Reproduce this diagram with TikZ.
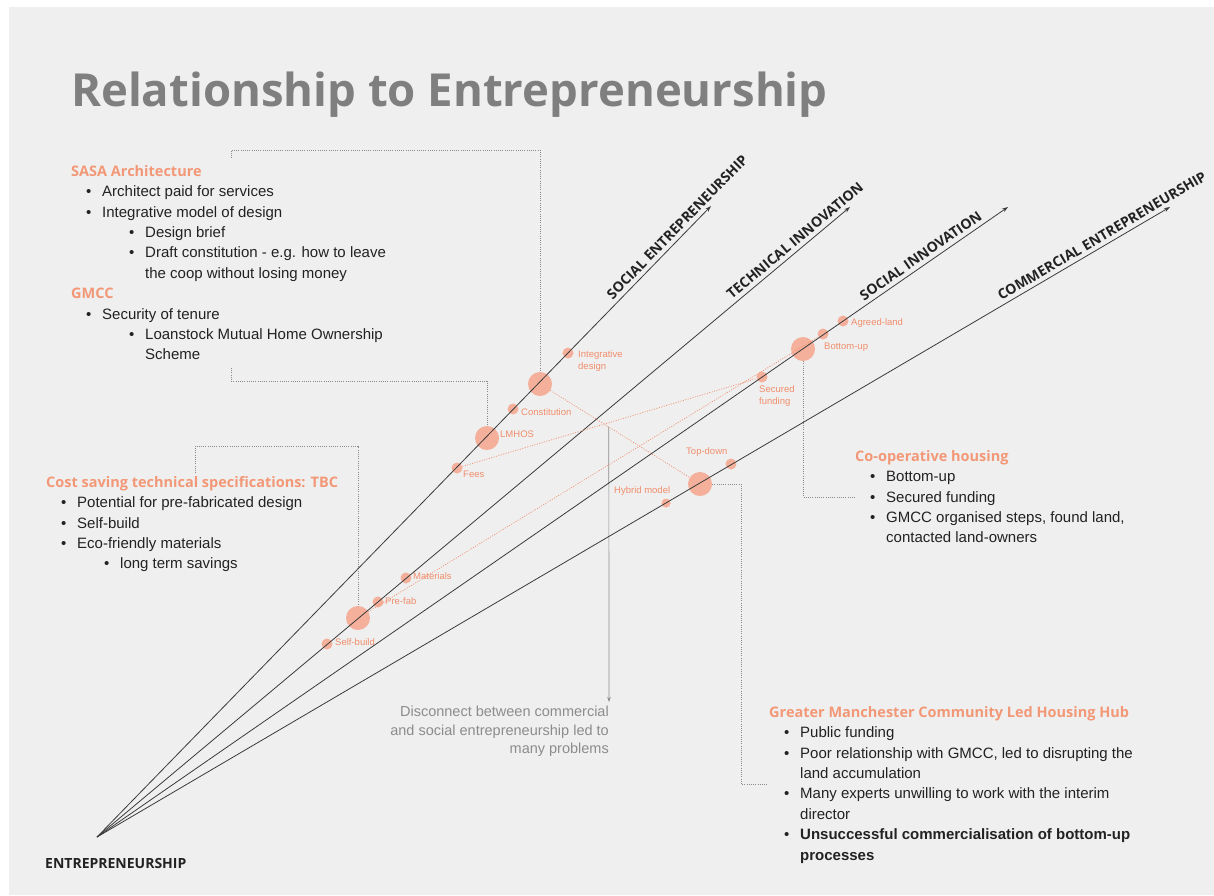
\documentclass[tikz,border=0pt]{standalone}
\usepackage{fontspec}
\setmainfont{Liberation Sans}
\newfontfamily\osf{Open Sans}
\usetikzlibrary{arrows.meta,calc}
\definecolor{bgc}{HTML}{EFEFEF}
\definecolor{salm}{HTML}{F39877}
\definecolor{circ}{HTML}{F4B09A}
\definecolor{clabc}{HTML}{F08E6C}
\definecolor{txt}{HTML}{222222}
\definecolor{ttl}{HTML}{7F7F7F}
\definecolor{axc}{HTML}{3A3A3A}
\definecolor{dotc}{HTML}{8A8A8A}
\definecolor{discc}{HTML}{8C8C8C}
\newcommand\hd[1]{{\fontsize{14.5}{20.4}\selectfont\osf\bfseries\color{salm}#1}}
\newcommand\bA{\hspace*{15pt}\makebox[16pt][l]{\textbullet}}
\newcommand\bB{\hspace*{58pt}\makebox[16pt][l]{\textbullet}}
\newcommand\cA{\hspace*{31pt}}
\newcommand\cB{\hspace*{74pt}}
\newcommand\fr{\rule{0pt}{12pt}}
\pgfdeclarelayer{fg}
\pgfsetlayers{main,fg}
\tikzset{
  blk/.style={inner sep=0pt, align=left, anchor=north west, text=txt, font=\fontsize{15}{20.4}\selectfont},
  bigc/.style={circle, fill=circ, draw=none, minimum size=24pt, inner sep=0pt},
  smallc/.style={circle, fill=circ, draw=none, minimum size=11pt, inner sep=0pt},
  clab/.style={inner sep=0pt, anchor=base west, text=clabc, font=\fontsize{9.5}{12}\selectfont, align=left},
  axis/.style={draw=axc, line width=0.8pt, -{Stealth[length=6pt,width=4pt]}},
  axlab/.style={sloped, above=4pt, inner sep=0pt, text=txt, font=\fontsize{14}{16}\selectfont\osf\bfseries},
  conn/.style={draw=dotc, line width=0.9pt, dash pattern=on 0.9pt off 1.3pt},
  odot/.style={draw=clabc, line width=0.7pt, dash pattern=on 1pt off 1.5pt},
  darr/.style={draw=discc, line width=0.7pt, -{Stealth[length=5pt,width=3.5pt]}}
}
\begin{document}
\begin{tikzpicture}[x=1pt,y=-1pt]
\useasboundingbox (0,0) rectangle (1214,895);
\fill[white] (0,0) rectangle (1214,895);
\fill[bgc] (9,7) rectangle (1214,895);

% title
\node[inner sep=0pt, anchor=base west, text=ttl, font=\fontsize{45.5}{50}\selectfont\osf\bfseries] (title) at (71,106) {Relationship to Entrepreneurship};

% axes geometry
\coordinate (O) at (97,837);
\coordinate (tSE) at (711,206);
\coordinate (tTI) at (850,207);
\coordinate (tSI) at (1008,207);
\coordinate (tCE) at (1170,207);

% circles
\node[smallc] (c0) at (568,353) {};
\node[bigc] (c1) at (540,384) {};
\node[smallc] (c2) at (513,409) {};
\node[bigc] (c3) at (487,438) {};
\node[smallc] (c4) at (457,468) {};
\node[smallc] (c5) at (406,578) {};
\node[smallc] (c6) at (378,602) {};
\node[bigc] (c7) at (358,618) {};
\node[smallc] (c8) at (327,644) {};
\node[smallc] (c9) at (762,377) {};
\node[bigc] (c10) at (803,349) {};
\node[smallc] (c11) at (823,334) {};
\node[smallc] (c12) at (843,321) {};
\node[smallc] (c13) at (731,464) {};
\node[bigc] (c14) at (700,484) {};
\node[smallc, draw=white, line width=0.8pt, dash pattern=on 0.8pt off 0.8pt, minimum size=10pt] (c15) at (666,503) {};

% circle labels
\node[clab] (l0) at (578,369) {Integrative\\design};
\node[clab] (l2) at (521,415) {Constitution};
\node[clab] (l3) at (500,437) {LMHOS};
\node[clab] (l4) at (463,477) {Fees};
\node[clab] (l5) at (413,579) {Materials};
\node[clab] (l6) at (385,604) {Pre-fab};
\node[clab] (l8) at (335,645) {Self-build};
\node[clab] (l9) at (759,404) {Secured\\funding};
\node[clab] (l11) at (824,349) {Bottom-up};
\node[clab] (l12) at (851,325) {Agreed-land};
\node[clab] (l13) at (686,454) {Top-down};
\node[clab] (l15) at (614,493) {Hybrid model};

\begin{pgfonlayer}{fg}
\draw[axis] (O) -- (tSE) node[axlab, pos=0.956] (lSE) {SOCIAL ENTREPRENEURSHIP};
\draw[axis] (O) -- (tTI) node[axlab, pos=0.935] (lTI) {TECHNICAL INNOVATION};
\draw[axis] (O) -- (tSI) node[axlab, pos=0.91] (lSI) {SOCIAL INNOVATION};
\draw[axis] (O) -- (tCE) node[axlab, pos=0.941] (lCE) {COMMERCIAL ENTREPRENEURSHIP};
% orange dotted links
\draw[odot] (c1) -- (c14);
\draw[odot] (c4) -- (c9);
\draw[odot] (c7) -- (c11);
\end{pgfonlayer}

\node[inner sep=0pt, anchor=base west, text=txt, font=\fontsize{14}{15}\selectfont\osf\bfseries] (ent) at (45,868) {ENTREPRENEURSHIP};

% text blocks
\node[blk] (sasa) at (71,164) {\fr\hd{SASA Architecture}\\
\bA Architect paid for services\\
\bA Integrative model of design\\
\bB Design brief\\
\bB Draft constitution - e.g. how to leave\\
\cB the coop without losing money\\
\hd{GMCC}\\
\bA Security of tenure\\
\bB Loanstock Mutual Home Ownership\\
\cB Scheme};

\node[blk] (cost) at (46,475) {\fr\hd{Cost saving technical specifications: TBC}\\
\bA Potential for pre-fabricated design\\
\bA Self-build\\
\bA Eco-friendly materials\\
\bB long term savings};

\node[blk] (coop) at (855,449) {\fr\hd{Co-operative housing}\\
\bA Bottom-up\\
\bA Secured funding\\
\bA GMCC organised steps, found land,\\
\cA contacted land-owners};

\node[blk] (hub) at (769,705) {\fr\hd{Greater Manchester Community Led Housing Hub}\\
\bA Public funding\\
\bA Poor relationship with GMCC, led to disrupting the\\
\cA land accumulation\\
\bA Many experts unwilling to work with the interim\\
\cA director\\
\bA \textbf{Unsuccessful commercialisation of bottom-up}\\
\cA \textbf{processes}};

\node[inner sep=0pt, anchor=north east, align=right, text=discc, font=\fontsize{14.5}{18.8}\selectfont] (disc) at (609,704) {\fr Disconnect between commercial\\and social entrepreneurship led to\\many problems};

% dotted connectors
\coordinate (k1) at (231,158);
\coordinate (k1t) at (231,150);
\draw[conn] (k1) -- (k1t) -| (c1.north);
\coordinate (k2) at (231,368);
\coordinate (k2b) at (231,381);
\draw[conn] (k2) -- (k2b) -| (c3.north);
\coordinate (k3) at (195,473);
\coordinate (k3t) at (195,446);
\draw[conn] (k3) -- (k3t) -| (c7.north);
\coordinate (k4) at (855,497);
\draw[conn] (c10.south) |- (k4);
\coordinate (k5a) at (741,784);
\coordinate (k5) at (768,784);
\draw[conn] (c14.east) -| (k5a) -- (k5);

% disconnect arrow
\coordinate (dstart) at ($(c1)!0.43!(c14)$);
\coordinate (dend) at (609,702);
\draw[darr] (dstart) -- (dend);
\end{tikzpicture}
\end{document}
